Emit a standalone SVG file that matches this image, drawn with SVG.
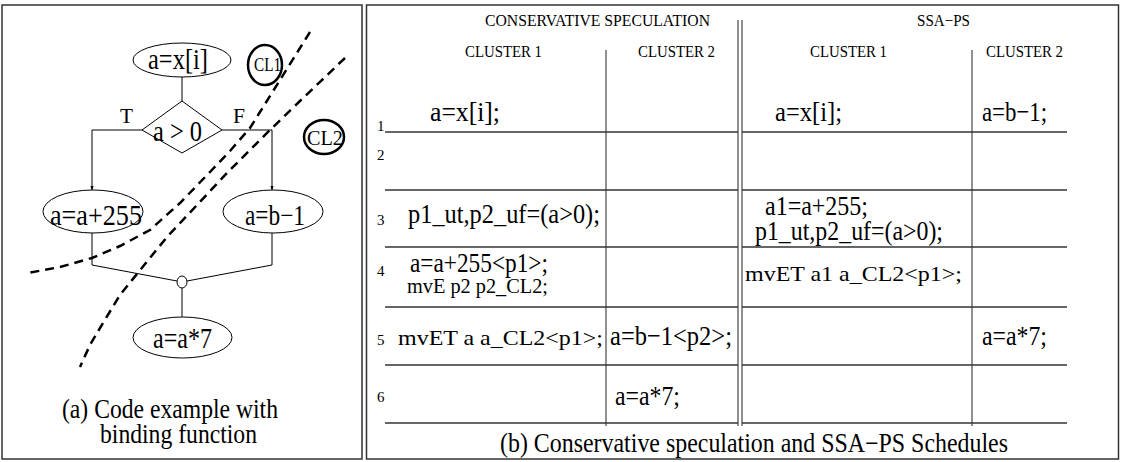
<svg xmlns="http://www.w3.org/2000/svg" width="1123" height="462" viewBox="0 0 1123 462">
<style>
text{font-family:"Liberation Serif","Times New Roman",serif;fill:#000}
.panel{fill:#fff;stroke:#333;stroke-width:1.5}
.n{fill:#fff;stroke:#000;stroke-width:1}
.c{fill:none;stroke:#000;stroke-width:1}
.cl{fill:#fff;stroke:#000;stroke-width:2.5}
.dash{fill:none;stroke:#000;stroke-width:2.5;stroke-dasharray:9 6}
.hl{stroke:#333;stroke-width:1.5}
.vl{stroke:#222;stroke-width:1}
.node{font-size:29px}
.big{font-size:28px}
.mv{font-size:22px}
.cap{font-size:27px}
.sm{font-size:21px}
.hd{font-size:17px}
.num{font-size:15px}
</style>
<defs>
<marker id="arr" markerWidth="6" markerHeight="11" refX="5" refY="2.5" orient="auto" markerUnits="userSpaceOnUse" viewBox="0 0 10 5">
<path d="M0,0 L10,2.5 L0,5 z" fill="#000"/>
</marker>
</defs>
<rect class="panel" x="2" y="5" width="360" height="454"/>
<rect class="panel" x="366.5" y="5" width="752" height="454"/>

<g id="connectors">
<line class="c" x1="182" y1="77" x2="182" y2="101"/>
<polyline class="c" points="142,130 92,130 92,189" marker-end="url(#arr)"/>
<polyline class="c" points="222,130 272,130 272,189" marker-end="url(#arr)"/>
<polyline class="c" points="92,233 92,265 177,281"/>
<polyline class="c" points="272,233 272,265 187,281"/>
<line class="c" x1="182" y1="288" x2="182" y2="317"/>
</g>

<g id="node-ax">
<ellipse class="n" cx="182" cy="60" rx="49" ry="17"/>
<text class="node" x="148" y="69" textLength="60" lengthAdjust="spacingAndGlyphs">a=x[i]</text>
</g>
<g id="node-cond">
<polygon class="n" points="182,101 222,130 182,153 142,130"/>
<text class="node" x="153" y="141" textLength="49" lengthAdjust="spacingAndGlyphs">a &gt; 0</text>
<text x="120" y="123" font-size="20" textLength="13" lengthAdjust="spacingAndGlyphs">T</text>
<text x="233" y="123" font-size="20" textLength="12" lengthAdjust="spacingAndGlyphs">F</text>
</g>
<g id="node-a255">
<ellipse class="n" cx="93" cy="211.5" rx="50" ry="21.5"/>
<text class="node" x="50" y="225" textLength="92" lengthAdjust="spacingAndGlyphs">a=a+255</text>
</g>
<g id="node-ab1">
<ellipse class="n" cx="273" cy="211.5" rx="50" ry="21.5"/>
<text class="node" x="245" y="225" textLength="60" lengthAdjust="spacingAndGlyphs">a=b−1</text>
</g>
<g id="node-merge">
<ellipse class="n" cx="182" cy="282" rx="5" ry="6"/>
</g>
<g id="node-a7">
<ellipse class="n" cx="182.5" cy="337.5" rx="49.5" ry="20.5"/>
<text class="node" x="153" y="348" textLength="59" lengthAdjust="spacingAndGlyphs">a=a*7</text>
</g>
<g id="node-cl1">
<ellipse class="cl" cx="265" cy="65" rx="17" ry="20"/>
<text x="254" y="71" font-size="18" textLength="27" lengthAdjust="spacingAndGlyphs">CL1</text>
</g>
<g id="node-cl2">
<ellipse class="cl" cx="324" cy="137" rx="20" ry="17"/>
<text x="307" y="145" font-size="21" textLength="36" lengthAdjust="spacingAndGlyphs">CL2</text>
</g>

<g id="partitions">
<polyline class="dash" points="310,32 295,56 280,80 265,104 250,128 230,151 210,172 180,203 150,230 120,246 92,258 60,267 28,273"/>
<polyline class="dash" points="345,58 300,101 270,130 227,173 197,205 167,237 145,264 120,295 100,328 90,345 80,367"/>
</g>

<text class="cap" x="62" y="418" textLength="216" lengthAdjust="spacingAndGlyphs">(a) Code example with</text>
<text class="cap" x="100" y="443" textLength="157" lengthAdjust="spacingAndGlyphs">binding function</text>

<g id="table">
<line class="vl" x1="738" y1="20" x2="738" y2="426"/>
<line class="vl" x1="742" y1="20" x2="742" y2="426"/>
<line class="vl" x1="606" y1="50" x2="606" y2="426"/>
<line class="vl" x1="972" y1="50" x2="972" y2="426"/>
<g class="hl">
<line x1="385" y1="132" x2="738" y2="132"/><line x1="742" y1="132" x2="1067" y2="132"/>
<line x1="385" y1="190" x2="738" y2="190"/><line x1="742" y1="190" x2="1067" y2="190"/>
<line x1="385" y1="247" x2="738" y2="247"/><line x1="742" y1="247" x2="1067" y2="247"/>
<line x1="385" y1="307" x2="738" y2="307"/><line x1="742" y1="307" x2="1067" y2="307"/>
<line x1="385" y1="365" x2="738" y2="365"/><line x1="742" y1="365" x2="1067" y2="365"/>
<line x1="385" y1="423" x2="738" y2="423"/><line x1="742" y1="423" x2="1067" y2="423"/>
</g>
<text class="hd" x="485" y="26" textLength="225" lengthAdjust="spacingAndGlyphs">CONSERVATIVE SPECULATION</text>
<text class="hd" x="917" y="26" textLength="53" lengthAdjust="spacingAndGlyphs">SSA−PS</text>
<text class="hd" x="465" y="57" textLength="77" lengthAdjust="spacingAndGlyphs">CLUSTER 1</text>
<text class="hd" x="638" y="57" textLength="77" lengthAdjust="spacingAndGlyphs">CLUSTER 2</text>
<text class="hd" x="810" y="57" textLength="77" lengthAdjust="spacingAndGlyphs">CLUSTER 1</text>
<text class="hd" x="986" y="57" textLength="77" lengthAdjust="spacingAndGlyphs">CLUSTER 2</text>
<text class="num" x="377" y="131">1</text>
<text class="num" x="377" y="160">2</text>
<text class="num" x="377" y="225">3</text>
<text class="num" x="377" y="276">4</text>
<text class="num" x="377" y="345">5</text>
<text class="num" x="377" y="402">6</text>
<text class="big" x="430" y="121" textLength="70" lengthAdjust="spacingAndGlyphs">a=x[i];</text>
<text class="big" x="775" y="121" textLength="67" lengthAdjust="spacingAndGlyphs">a=x[i];</text>
<text class="big" x="982" y="121" textLength="65" lengthAdjust="spacingAndGlyphs">a=b−1;</text>
<text class="big" x="408" y="223" textLength="192" lengthAdjust="spacingAndGlyphs">p1_ut,p2_uf=(a&gt;0);</text>
<text class="big" x="765" y="215" textLength="103" lengthAdjust="spacingAndGlyphs">a1=a+255;</text>
<text class="big" x="755" y="240" textLength="188" lengthAdjust="spacingAndGlyphs">p1_ut,p2_uf=(a&gt;0);</text>
<text class="big" x="410" y="272" textLength="138" lengthAdjust="spacingAndGlyphs">a=a+255&lt;p1&gt;;</text>
<text class="sm" x="407" y="293" textLength="141" lengthAdjust="spacingAndGlyphs">mvE p2 p2_CL2;</text>
<text class="mv" x="745" y="281" textLength="217" lengthAdjust="spacingAndGlyphs">mvET a1 a_CL2&lt;p1&gt;;</text>
<text class="mv" x="398" y="345" textLength="205" lengthAdjust="spacingAndGlyphs">mvET a a_CL2&lt;p1&gt;;</text>
<text class="big" x="610" y="345" textLength="122" lengthAdjust="spacingAndGlyphs">a=b−1&lt;p2&gt;;</text>
<text class="big" x="982" y="345" textLength="65" lengthAdjust="spacingAndGlyphs">a=a*7;</text>
<text class="big" x="615" y="405" textLength="65" lengthAdjust="spacingAndGlyphs">a=a*7;</text>
</g>
<text class="cap" x="500" y="452" textLength="508" lengthAdjust="spacingAndGlyphs">(b) Conservative speculation and SSA−PS Schedules</text>
</svg>
